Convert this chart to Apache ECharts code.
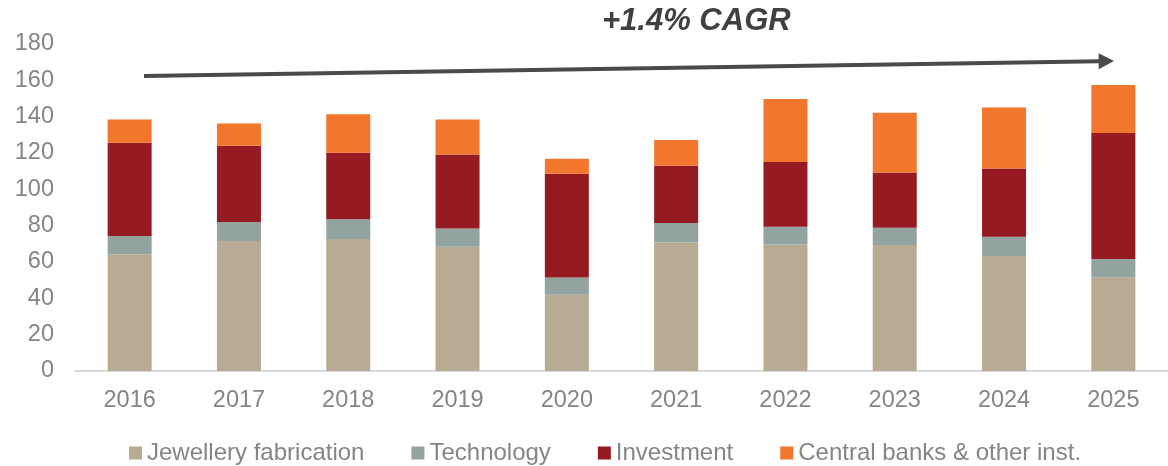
<!DOCTYPE html>
<html>
<head>
<meta charset="utf-8">
<script src="https://cdn.jsdelivr.net/npm/echarts@6/dist/echarts.min.js"></script>
<style>
  html, body { margin: 0; padding: 0; background: #fff; }
  #main { width: 1168px; height: 466px; }
</style>
</head>
<body>
<div id="main"></div>
<script>
const years = ["2016", "2017", "2018", "2019", "2020", "2021", "2022", "2023", "2024", "2025"];
const jewellery = [64.2, 71.6, 72.7, 68.4, 42.0, 70.8, 69.7, 69.4, 63.3, 51.6];
const technology = [10.1, 10.4, 10.8, 10.1, 9.5, 10.7, 9.7, 9.5, 10.6, 10.1];
const investment = [51.4, 42.0, 36.7, 40.7, 57.1, 31.5, 35.6, 30.3, 37.5, 69.3];
const centralBanks = [12.8, 12.3, 21.1, 19.3, 8.3, 14.2, 34.7, 33.0, 33.7, 26.4];
const yTicks = { min: 0, max: 180, step: 20 };

const font = "Liberation Sans, Arial, sans-serif";
const labelGray = "#858585";

function bar(name, data, color) {
  return {
    name: name,
    type: "bar",
    stack: "total",
    barWidth: 44,
    data: data,
    itemStyle: { color: color },
  };
}

let chart = echarts.init(document.getElementById("main"));
chart.setOption({
  animation: false,
  textStyle: { fontFamily: font },
  grid: { left: 75, right: -9.5, top: 44, bottom: 95 },
  xAxis: {
    type: "category",
    data: years,
    axisLine: { lineStyle: { color: "#d9d9d9", width: 2 } },
    axisTick: { show: false },
    axisLabel: { color: labelGray, fontSize: 23.5, margin: 18, fontFamily: font },
  },
  yAxis: {
    type: "value",
    min: yTicks.min,
    max: yTicks.max,
    interval: yTicks.step,
    splitLine: { show: false },
    axisLine: { show: false },
    axisTick: { show: false },
    axisLabel: { color: labelGray, fontSize: 23.5, margin: 21, fontFamily: font },
  },
  legend: {
    left: 124,
    top: 436,
    itemWidth: 13,
    itemHeight: 13,
    itemGap: 47,
    icon: "rect",
    textStyle: { color: labelGray, fontSize: 24, fontFamily: font },
  },
  series: [
    bar("Jewellery fabrication", jewellery, "#b7ab93"),
    bar("Technology", technology, "#93a3a0"),
    bar("Investment", investment, "#961a21"),
    bar("Central banks & other inst.", centralBanks, "#f3762d"),
  ],
  graphic: [
    {
      type: "text",
      left: 602,
      top: 6,
      style: {
        text: "+1.4% CAGR",
        fill: "#404040",
        font: "italic bold 31px Liberation Sans, Arial, sans-serif",
      },
    },
    {
      type: "line",
      shape: { x1: 144, y1: 76, x2: 1100, y2: 61.3 },
      style: { stroke: "#4a4a4a", lineWidth: 4 },
    },
    {
      type: "polygon",
      shape: { points: [[1098.7, 53.3], [1114, 61], [1098.7, 69.3]] },
      style: { fill: "#4a4a4a" },
    },
  ],
});
</script>
</body>
</html>
